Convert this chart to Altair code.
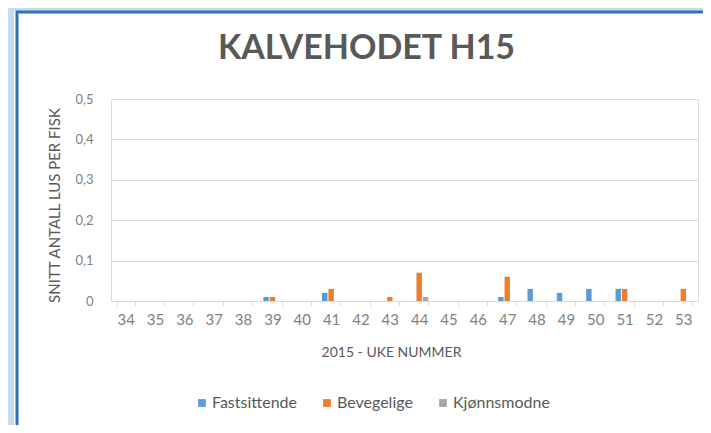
import altair as alt
import pandas as pd

weeks = [str(w) for w in range(34, 54)]
series = ["Fastsittende", "Bevegelige", "Kjønnsmodne"]
colors = ["#5b9bd5", "#ed7d31", "#a5a5a5"]
fastsittende = [0, 0, 0, 0, 0, 0.01, 0, 0.02, 0, 0, 0, 0, 0, 0.01, 0.03, 0.02, 0.03, 0.03, 0, 0]
bevegelige = [0, 0, 0, 0, 0, 0.01, 0, 0.03, 0, 0.01, 0.07, 0, 0, 0.06, 0, 0, 0, 0.03, 0, 0.03]
kjonnsmodne = [0, 0, 0, 0, 0, 0, 0, 0, 0, 0, 0.01, 0, 0, 0, 0, 0, 0, 0, 0, 0]

rows = []
for name, vals in zip(series, [fastsittende, bevegelige, kjonnsmodne]):
    for w, v in zip(weeks, vals):
        rows.append({"uke": w, "serie": name, "verdi": v})
df = pd.DataFrame(rows)

FONT = "Lato"

bars = alt.Chart(df).mark_bar().encode(
    x=alt.X("uke:N", sort=weeks,
            scale=alt.Scale(domain=weeks, paddingInner=0.38, paddingOuter=0.19),
            axis=alt.Axis(title="2015 - UKE NUMMER", labelAngle=0, labelFontSize=15,
                          labelColor="#7f7f7f", labelFont=FONT, labelPadding=6,
                          titleFont=FONT, titleFontSize=14, titleFontWeight="normal",
                          titleColor="#595959", titlePadding=18, titleX=280,
                          domainColor="#d9d9d9", tickColor="#d9d9d9", tickSize=5,
                          tickBand="extent", grid=False)),
    xOffset=alt.XOffset("serie:N", sort=series,
                        scale=alt.Scale(domain=series, paddingInner=0.15)),
    y=alt.Y("verdi:Q",
            scale=alt.Scale(domain=[0, 0.5], nice=False),
            axis=alt.Axis(title="SNITT ANTALL LUS PER FISK", values=[0, 0.1, 0.2, 0.3, 0.4, 0.5],
                          labelExpr="replace(format(datum.value, '.1~f'), '.', ',')",
                          labelFontSize=13, labelColor="#7f7f7f", labelFont=FONT,
                          labelPadding=18, titleFont=FONT, titleFontSize=15,
                          titleFontWeight="normal", titleColor="#595959", titlePadding=12,
                          titleY=106,
                          domain=False, ticks=False, gridColor="#d9d9d9")),
    color=alt.Color("serie:N", sort=series,
                    scale=alt.Scale(domain=series, range=colors),
                    legend=alt.Legend(title=None, orient="none", direction="horizontal",
                                      legendX=83, legendY=296, symbolType="square",
                                      symbolSize=60, symbolStrokeWidth=0,
                                      labelFont=FONT, labelFontSize=16, labelColor="#595959",
                                      columnPadding=22, labelOffset=2)),
)

glow = alt.Chart(pd.DataFrame({"a": [0]})).mark_rect(
    fill=None, stroke="#c6dcf1", strokeWidth=12, clip=False
).encode(x=alt.value(-103), x2=alt.value(660), y=alt.value(-94), y2=alt.value(340))

frame = alt.Chart(pd.DataFrame({"a": [0]})).mark_rect(
    fill=None, stroke="#2e74b5", strokeWidth=3, clip=False
).encode(x=alt.value(-94), x2=alt.value(650), y=alt.value(-87), y2=alt.value(332))

chart = alt.layer(glow, frame, bars).properties(
    width=587, height=202,
    title=alt.TitleParams("KALVEHODET H15", font=FONT, fontSize=34, fontWeight="bold",
                          color="#595959", anchor="middle", dx=-38, offset=-67),
    autosize=alt.AutoSizeParams(type="none"),
    padding={"left": 103, "top": 91, "right": 5, "bottom": 124},
).configure_view(stroke=None).configure(background="white")

chart.save("out.html", embed_options={"renderer": "svg", "actions": False})
